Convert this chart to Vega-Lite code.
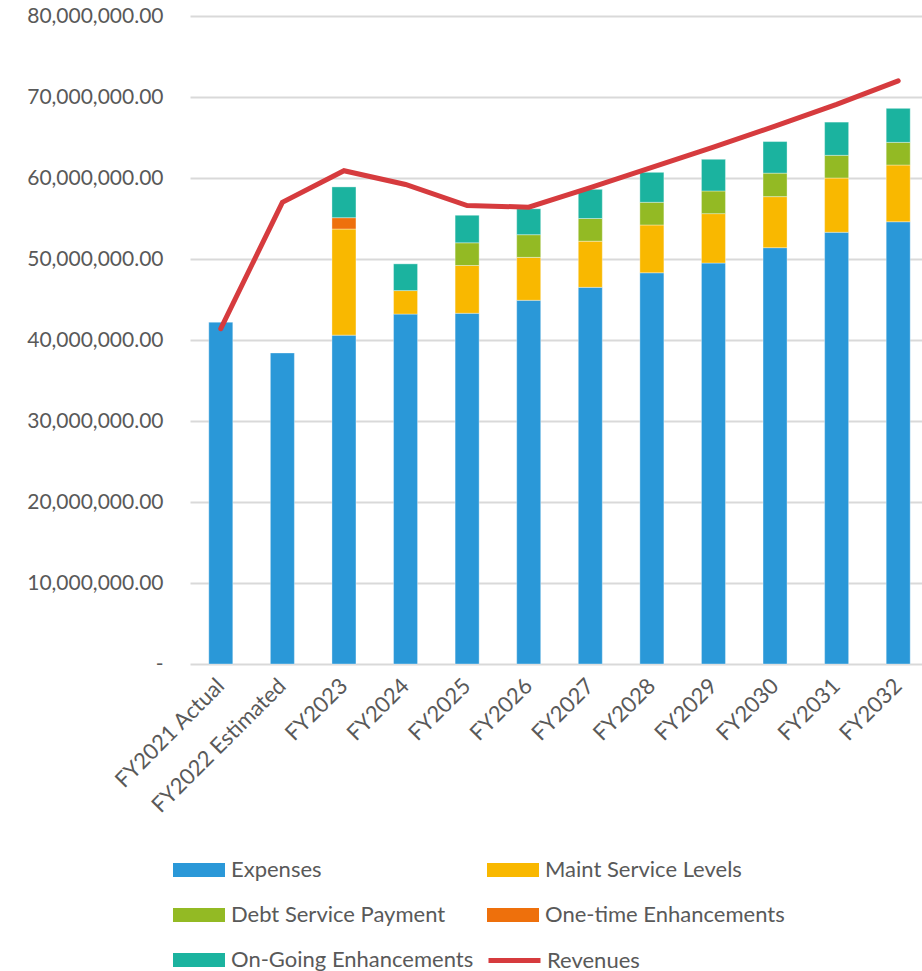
{
  "$schema": "https://vega.github.io/schema/vega-lite/v6.json",
  "autosize": {"type": "none"},
  "padding": {"left": 190, "top": 16, "right": 0, "bottom": 307},
  "width": 739,
  "height": 648,
  "background": "white",
  "config": {
    "font": "Lato",
    "view": {"stroke": null}
  },
  "datasets": {
    "bars": [
      {"year": "FY2021 Actual", "category": "Expenses", "ord": 1, "value": 42200000},
      {"year": "FY2022 Estimated", "category": "Expenses", "ord": 1, "value": 38400000},
      {"year": "FY2023", "category": "Expenses", "ord": 1, "value": 40600000},
      {"year": "FY2023", "category": "Maint Service Levels", "ord": 2, "value": 13100000},
      {"year": "FY2023", "category": "One-time Enhancements", "ord": 4, "value": 1400000},
      {"year": "FY2023", "category": "On-Going Enhancements", "ord": 5, "value": 3800000},
      {"year": "FY2024", "category": "Expenses", "ord": 1, "value": 43200000},
      {"year": "FY2024", "category": "Maint Service Levels", "ord": 2, "value": 2900000},
      {"year": "FY2024", "category": "On-Going Enhancements", "ord": 5, "value": 3300000},
      {"year": "FY2025", "category": "Expenses", "ord": 1, "value": 43300000},
      {"year": "FY2025", "category": "Maint Service Levels", "ord": 2, "value": 5900000},
      {"year": "FY2025", "category": "Debt Service Payment", "ord": 3, "value": 2800000},
      {"year": "FY2025", "category": "On-Going Enhancements", "ord": 5, "value": 3400000},
      {"year": "FY2026", "category": "Expenses", "ord": 1, "value": 44900000},
      {"year": "FY2026", "category": "Maint Service Levels", "ord": 2, "value": 5300000},
      {"year": "FY2026", "category": "Debt Service Payment", "ord": 3, "value": 2800000},
      {"year": "FY2026", "category": "On-Going Enhancements", "ord": 5, "value": 3200000},
      {"year": "FY2027", "category": "Expenses", "ord": 1, "value": 46500000},
      {"year": "FY2027", "category": "Maint Service Levels", "ord": 2, "value": 5700000},
      {"year": "FY2027", "category": "Debt Service Payment", "ord": 3, "value": 2800000},
      {"year": "FY2027", "category": "On-Going Enhancements", "ord": 5, "value": 3600000},
      {"year": "FY2028", "category": "Expenses", "ord": 1, "value": 48300000},
      {"year": "FY2028", "category": "Maint Service Levels", "ord": 2, "value": 5900000},
      {"year": "FY2028", "category": "Debt Service Payment", "ord": 3, "value": 2800000},
      {"year": "FY2028", "category": "On-Going Enhancements", "ord": 5, "value": 3700000},
      {"year": "FY2029", "category": "Expenses", "ord": 1, "value": 49500000},
      {"year": "FY2029", "category": "Maint Service Levels", "ord": 2, "value": 6100000},
      {"year": "FY2029", "category": "Debt Service Payment", "ord": 3, "value": 2800000},
      {"year": "FY2029", "category": "On-Going Enhancements", "ord": 5, "value": 3900000},
      {"year": "FY2030", "category": "Expenses", "ord": 1, "value": 51400000},
      {"year": "FY2030", "category": "Maint Service Levels", "ord": 2, "value": 6300000},
      {"year": "FY2030", "category": "Debt Service Payment", "ord": 3, "value": 2900000},
      {"year": "FY2030", "category": "On-Going Enhancements", "ord": 5, "value": 3900000},
      {"year": "FY2031", "category": "Expenses", "ord": 1, "value": 53300000},
      {"year": "FY2031", "category": "Maint Service Levels", "ord": 2, "value": 6700000},
      {"year": "FY2031", "category": "Debt Service Payment", "ord": 3, "value": 2800000},
      {"year": "FY2031", "category": "On-Going Enhancements", "ord": 5, "value": 4100000},
      {"year": "FY2032", "category": "Expenses", "ord": 1, "value": 54600000},
      {"year": "FY2032", "category": "Maint Service Levels", "ord": 2, "value": 7000000},
      {"year": "FY2032", "category": "Debt Service Payment", "ord": 3, "value": 2800000},
      {"year": "FY2032", "category": "On-Going Enhancements", "ord": 5, "value": 4200000}
    ],
    "revenues": [
      {"year": "FY2021 Actual", "category": "Revenues", "value": 41400000},
      {"year": "FY2022 Estimated", "category": "Revenues", "value": 57000000},
      {"year": "FY2023", "category": "Revenues", "value": 60900000},
      {"year": "FY2024", "category": "Revenues", "value": 59200000},
      {"year": "FY2025", "category": "Revenues", "value": 56600000},
      {"year": "FY2026", "category": "Revenues", "value": 56400000},
      {"year": "FY2027", "category": "Revenues", "value": 58800000},
      {"year": "FY2028", "category": "Revenues", "value": 61300000},
      {"year": "FY2029", "category": "Revenues", "value": 63800000},
      {"year": "FY2030", "category": "Revenues", "value": 66400000},
      {"year": "FY2031", "category": "Revenues", "value": 69100000},
      {"year": "FY2032", "category": "Revenues", "value": 72000000}
    ]
  },
  "encoding": {
    "x": {
      "field": "year",
      "type": "nominal",
      "sort": null,
      "scale": {"paddingInner": 0.61, "paddingOuter": 0.305},
      "axis": {
        "title": null,
        "labelAngle": -45,
        "labelAlign": "right",
        "labelBaseline": "middle",
        "labelFontSize": 22,
        "labelColor": "#595959",
        "labelPadding": 18,
        "labelLimit": 300,
        "ticks": false,
        "domain": false,
        "grid": false
      }
    }
  },
  "layer": [
    {
      "data": {"name": "bars"},
      "mark": {"type": "bar", "stroke": "#ffffff", "strokeOpacity": 0.35, "strokeWidth": 1},
      "encoding": {
        "y": {
          "field": "value",
          "type": "quantitative",
          "stack": "zero",
          "scale": {"domain": [0, 80000000], "nice": false},
          "axis": {
            "title": null,
            "values": [0, 10000000, 20000000, 30000000, 40000000, 50000000, 60000000, 70000000, 80000000],
            "labelExpr": "datum.value == 0 ? '-\u00a0\u00a0\u00a0' : format(datum.value, ',.2f')",
            "labelFontSize": 21,
            "labelColor": "#595959",
            "labelPadding": 27,
            "labelOverlap": false,
            "ticks": false,
            "domain": false,
            "grid": true,
            "gridColor": "#D9D9D9",
            "gridWidth": 2
          }
        },
        "color": {
          "field": "category",
          "type": "nominal",
          "scale": {
            "domain": ["Expenses", "Maint Service Levels", "Debt Service Payment", "One-time Enhancements", "On-Going Enhancements"],
            "range": ["#2A98D8", "#F9B800", "#93BA24", "#EE700C", "#1BB39F"]
          },
          "legend": {
            "title": null,
            "orient": "none",
            "legendX": -17,
            "legendY": 828,
            "direction": "horizontal",
            "columns": 2,
            "columnPadding": 13,
            "rowPadding": 8,
            "labelFontSize": 22,
            "labelColor": "#595959",
            "labelOffset": 6,
            "labelLimit": 400,
            "symbolSize": 2704,
            "symbolStrokeWidth": 0,
            "symbolOpacity": 1,
            "symbolType": "M-1,-0.27H1V0.27H-1Z"
          }
        },
        "order": {"field": "ord", "type": "quantitative"}
      }
    },
    {
      "data": {"name": "revenues"},
      "mark": {"type": "line", "strokeWidth": 5, "strokeCap": "round", "strokeJoin": "miter"},
      "encoding": {
        "y": {
          "field": "value",
          "type": "quantitative",
          "axis": {
            "title": null,
            "values": [0, 10000000, 20000000, 30000000, 40000000, 50000000, 60000000, 70000000, 80000000],
            "labelExpr": "datum.value == 0 ? '-\u00a0\u00a0\u00a0' : format(datum.value, ',.2f')",
            "labelFontSize": 21,
            "labelColor": "#595959",
            "labelPadding": 27,
            "labelOverlap": false,
            "ticks": false,
            "domain": false,
            "grid": true,
            "gridColor": "#D9D9D9",
            "gridWidth": 2
          }
        },
        "stroke": {
          "field": "category",
          "type": "nominal",
          "scale": {"domain": ["Revenues"], "range": ["#D63B3E"]},
          "legend": {
            "title": null,
            "orient": "none",
            "legendX": 296,
            "legendY": 916,
            "labelFontSize": 22,
            "labelColor": "#595959",
            "labelOffset": 4,
            "labelLimit": 400,
            "symbolType": "stroke",
            "symbolSize": 2704,
            "symbolStrokeWidth": 5,
            "symbolOpacity": 1
          }
        }
      }
    }
  ]
}
